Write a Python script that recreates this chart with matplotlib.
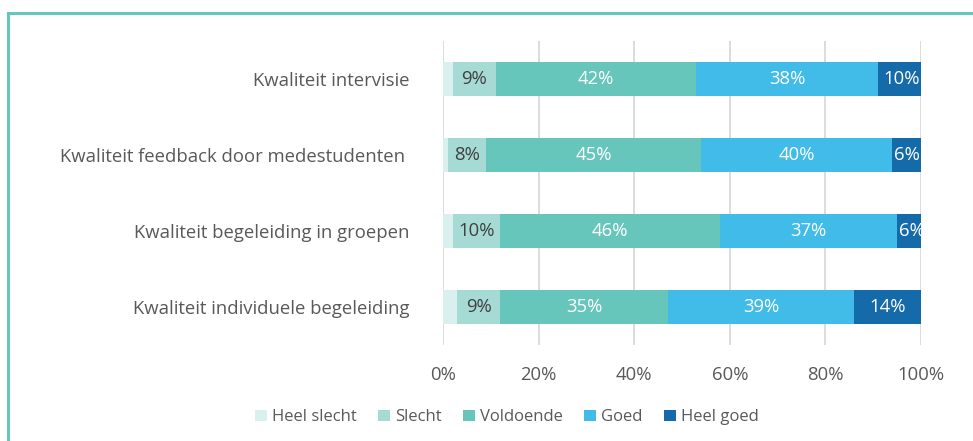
import numpy as np
import matplotlib
matplotlib.use("Agg")
import matplotlib.pyplot as plt
from matplotlib.patches import Rectangle

plt.rcParams["font.family"] = ["Open Sans", "DejaVu Sans"]

categories = ["Kwaliteit intervisie", "Kwaliteit feedback door medestudenten ",
              "Kwaliteit begeleiding in groepen", "Kwaliteit individuele begeleiding"]
series = ["Heel slecht", "Slecht", "Voldoende", "Goed", "Heel goed"]
heel_slecht = [2, 1, 2, 3]
slecht = [9, 8, 10, 9]
voldoende = [42, 45, 46, 35]
goed = [38, 40, 37, 39]
heel_goed = [10, 6, 6, 14]

colors = ["#DAF0EE", "#A6DAD5", "#67C6BC", "#41BCE8", "#156BAA"]
text_colors = [None, "#404040", "white", "white", "white"]

fig = plt.figure(figsize=(9.73, 4.41), dpi=100)
ax = fig.add_axes([0.4553, 0.2177, 0.4913, 0.6893])

data = [heel_slecht, slecht, voldoende, goed, heel_goed]
y = np.arange(len(categories))
left = np.zeros(len(categories))
for vals, name, col, tc in zip(data, series, colors, text_colors):
    vals = np.array(vals, dtype=float)
    bars = ax.barh(y, vals, left=left, height=0.46, color=col, label=name, zorder=3)
    if tc is not None:
        for b, v in zip(bars, vals):
            ax.text(b.get_x() + b.get_width() / 2, b.get_y() + b.get_height() / 2,
                    f"{int(v)}%", ha="center", va="center", color=tc, fontsize=13.3, zorder=4)
    left += vals

ax.set_xlim(0, 100)
ax.set_ylim(len(categories) - 0.5, -0.5)
ax.set_yticks(y)
ax.set_yticklabels(categories)
ax.set_xticks(np.arange(0, 101, 20))
ax.set_xticklabels([f"{t}%" for t in range(0, 101, 20)])
ax.tick_params(axis="both", length=0, labelsize=13.3, colors="#595959")
ax.tick_params(axis="y", pad=24)
ax.tick_params(axis="x", pad=15)
ax.xaxis.grid(True, color="#D9D9D9", linewidth=1.3, zorder=0)
for s in ax.spines.values():
    s.set_visible(False)

leg = fig.legend(loc="center", bbox_to_anchor=(0.521, 0.054), ncol=5, frameon=False,
                 fontsize=12, handlelength=0.7, handleheight=0.7, handletextpad=0.3,
                 columnspacing=1.3)
for t in leg.get_texts():
    t.set_color("#595959")

fig.patches.append(Rectangle((7.5 / 973, -0.1), 1.2, 1 - 12.5 / 441 + 0.1,
                             transform=fig.transFigure, fill=False,
                             edgecolor="#67C6BC", linewidth=2.2))

fig.savefig("out.png", dpi=100)
